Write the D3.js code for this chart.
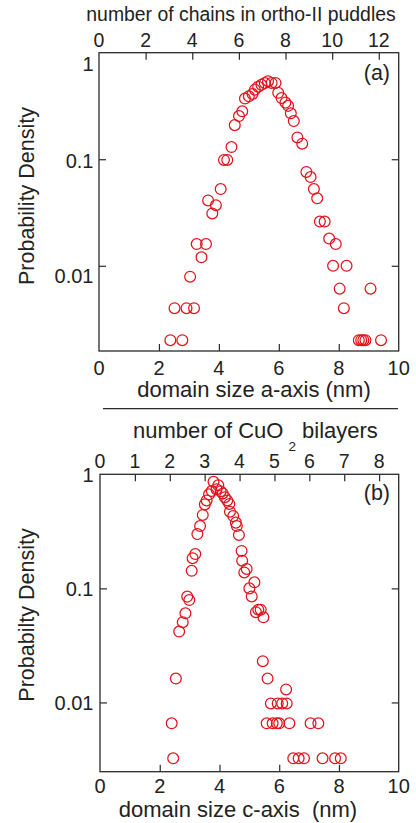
<!DOCTYPE html>
<html>
<head>
<meta charset="utf-8">
<script src="https://cdn.jsdelivr.net/npm/d3@7"></script>
<style>
  html, body { margin: 0; padding: 0; background: #fff; }
  svg { display: block; }
  text { font-family: "Liberation Sans", Arial, Helvetica, sans-serif; fill: #222; }
</style>
</head>
<body>
<svg id="chart" width="416" height="823"></svg>
<script>
// ---- data -------------------------------------------------------------
// (a) ortho-II domain size along a (nm) and probability density
const sizeA = [2.38, 2.52, 2.78, 2.92, 3.04, 3.17, 3.26, 3.42, 3.57, 3.64,
               3.78, 3.90, 4.06, 4.17, 4.28, 4.42, 4.53, 4.67, 4.78, 4.87,
               5.00, 5.12, 5.20, 5.31, 5.42, 5.53, 5.64, 5.76, 5.89, 5.98,
               6.09, 6.22, 6.31, 6.40, 6.50, 6.62, 6.78, 6.92, 7.06, 7.17,
               7.28, 7.37, 7.53, 7.68, 7.81, 7.90, 8.03, 8.17, 8.26, 8.67,
               8.75, 8.82, 8.89, 9.06, 9.41];
const densityA = [0.0020, 0.0040, 0.0020, 0.0040, 0.0079, 0.0040, 0.016, 0.012, 0.016, 0.041,
                  0.031, 0.037, 0.0525, 0.0985, 0.0985, 0.130, 0.209, 0.254, 0.282, 0.371,
                  0.39, 0.41, 0.45, 0.48, 0.50, 0.52, 0.54, 0.52, 0.52, 0.42,
                  0.375, 0.34, 0.317, 0.27, 0.228, 0.16, 0.14, 0.076, 0.068, 0.0525,
                  0.043, 0.026, 0.026, 0.018, 0.010, 0.016, 0.0061, 0.0040, 0.010, 0.0020,
                  0.0020, 0.0020, 0.0020, 0.0061, 0.0020];

// (b) domain size along c (nm) and probability density
const sizeC = [2.40, 2.45, 2.54, 2.65, 2.77, 2.86, 2.92, 2.99, 3.07, 3.10,
               3.19, 3.26, 3.35, 3.44, 3.51, 3.57, 3.65, 3.74, 3.80, 3.90,
               3.96, 4.04, 4.11, 4.18, 4.26, 4.33, 4.35, 4.46, 4.55, 4.58,
               4.65, 4.74, 4.76, 4.83, 4.91, 5.00, 5.08, 5.17, 5.22, 5.30,
               5.38, 5.45, 5.47, 5.58, 5.61, 5.72, 5.78, 5.92, 5.95, 6.00,
               6.10, 6.23, 6.25, 6.34, 6.47, 6.65, 6.83, 7.05, 7.31, 7.45,
               7.87, 8.06];
const densityC = [0.00656, 0.00324, 0.0162, 0.0418, 0.0505, 0.0605, 0.0847, 0.079, 0.1426, 0.184,
                  0.20, 0.299, 0.352, 0.44, 0.545, 0.59, 0.667, 0.713, 0.86, 0.74,
                  0.80, 0.71, 0.68, 0.63, 0.59, 0.55, 0.47, 0.43, 0.377, 0.352,
                  0.294, 0.213, 0.175, 0.138, 0.148, 0.100, 0.085, 0.113, 0.0618, 0.065,
                  0.065, 0.023, 0.0558, 0.00656, 0.0162, 0.0098, 0.00656, 0.00656, 0.0098, 0.00656,
                  0.0098, 0.013, 0.0098, 0.00656, 0.00324, 0.00324, 0.00324, 0.00656, 0.00656, 0.00324,
                  0.00324, 0.00324];

// tick values
const sizeTicks = [0, 2, 4, 6, 8, 10];
const densityTicks = [1, 0.1, 0.01];
const chainTicks = [0, 2, 4, 6, 8, 10, 12];
const bilayerTicks = [0, 1, 2, 3, 4, 5, 6, 7, 8];

// lattice lengths converting nm to counts on the top axes
const chainPeriodNm = 0.778;   // ortho-II chain spacing
const bilayerPeriodNm = 1.168; // c-axis CuO2 bilayer spacing

// ---- drawing ----------------------------------------------------------
const svg = d3.select("#chart");
const markerColor = "#e3121b";
const frameColor = "#2a2a2a";

const panels = [
  {
    tag: "(a)", xs: sizeA, ys: densityA,
    box: { left: 99, right: 398.7, top: 52.7, bottom: 351 },
    yMin: Math.pow(10, -2.8),
    topTicks: chainTicks, period: chainPeriodNm,
    topTickY: 46.7,
    bottomTitle: "domain size a-axis (nm)", bottomTitleX: 254, bottomTitleY: 397,
    bottomTickY: 375,
    yTitle: "Probability Density", yTitleY: 196,
    yLabelNudge: [11, 2, 10],
    tagY: 80
  },
  {
    tag: "(b)", xs: sizeC, ys: densityC,
    box: { left: 100, right: 398.7, top: 474.3, bottom: 771.7 },
    yMin: Math.pow(10, -2.607),
    topTicks: bilayerTicks, period: bilayerPeriodNm,
    topTickY: 468.3,
    bottomTitle: "domain size c-axis  (nm)", bottomTitleX: 238, bottomTitleY: 816.5,
    bottomTickY: 792.5,
    yTitle: "Probabilty Density", yTitleY: 615,
    yLabelNudge: [0, 0, 0],
    tagY: 500
  }
];

panels.forEach(p => {
  const b = p.box;
  const x = d3.scaleLinear().domain([0, 10]).range([b.left, b.right]);
  const xTop = d3.scaleLinear().domain([0, 10 / p.period]).range([b.left, b.right]);
  const y = d3.scaleLog().domain([p.yMin, 1]).range([b.bottom, b.top]);

  const g = svg.append("g");

  // inward tick marks on all four sides
  const tick = 7;
  const axes = [
    { a: d3.axisBottom(x).tickValues(sizeTicks.filter(v => v > 0 && v < 10)), t: `translate(0,${b.bottom})` },
    { a: d3.axisTop(xTop).tickValues(p.topTicks.filter(v => v > 0)), t: `translate(0,${b.top})` },
    { a: d3.axisLeft(y).tickValues(densityTicks.filter(v => v < 1)), t: `translate(${b.left},0)` },
    { a: d3.axisRight(y).tickValues(densityTicks.filter(v => v < 1)), t: `translate(${b.right},0)` }
  ];
  axes.forEach(d => {
    const ax = g.append("g").attr("transform", d.t)
      .call(d.a.tickSize(-tick).tickFormat(() => ""));
    ax.select(".domain").remove();
    ax.selectAll("text").remove();
    ax.selectAll("line").attr("stroke", frameColor).attr("stroke-width", 1.2);
  });

  // frame
  g.append("rect")
    .attr("x", b.left).attr("y", b.top)
    .attr("width", b.right - b.left).attr("height", b.bottom - b.top)
    .attr("fill", "none").attr("stroke", frameColor).attr("stroke-width", 1.3);

  // bottom tick labels
  g.selectAll(".bl").data(sizeTicks).join("text")
    .attr("x", d => x(d)).attr("y", p.bottomTickY)
    .attr("text-anchor", "middle").attr("font-size", 20)
    .text(d => d);

  // top tick labels
  g.selectAll(".tl").data(p.topTicks).join("text")
    .attr("x", d => xTop(d)).attr("y", p.topTickY)
    .attr("text-anchor", "middle").attr("font-size", 19.5)
    .text(d => d);

  // left tick labels
  g.selectAll(".yl").data(densityTicks).join("text")
    .attr("x", 93.5)
    .attr("y", (d, i) => y(d) + p.yLabelNudge[i])
    .attr("dy", "0.36em")
    .attr("text-anchor", "end").attr("font-size", 20)
    .text(d => d);

  // axis titles
  g.append("text")
    .attr("x", p.bottomTitleX).attr("y", p.bottomTitleY)
    .attr("text-anchor", "middle").attr("font-size", 22)
    .style("white-space", "pre")
    .text(p.bottomTitle);

  g.append("text")
    .attr("transform", `translate(34,${p.yTitleY}) rotate(-90)`)
    .attr("text-anchor", "middle").attr("font-size", 21.5)
    .text(p.yTitle);

  // panel tag
  g.append("text")
    .attr("x", 390).attr("y", p.tagY)
    .attr("text-anchor", "end").attr("font-size", 21.5)
    .text(p.tag);

  // data markers
  g.append("g").selectAll("circle")
    .data(p.xs.map((v, i) => [v, p.ys[i]]))
    .join("circle")
    .attr("cx", d => x(d[0])).attr("cy", d => y(d[1]))
    .attr("r", 5.4)
    .attr("fill", "none").attr("stroke", markerColor).attr("stroke-width", 1.25);
});

// top title of panel (a)
svg.append("text")
  .attr("x", 241).attr("y", 21)
  .attr("text-anchor", "middle").attr("font-size", 19.4)
  .text("number of chains in ortho-II puddles");

// top title of panel (b) with subscripted CuO2
const tb = svg.append("text")
  .attr("x", 133).attr("y", 438)
  .attr("font-size", 22);
tb.append("tspan").text("number of CuO");
tb.append("tspan").attr("dx", 5).attr("dy", 13).attr("font-size", 13.5).text("2");
tb.append("tspan").attr("dy", -13).style("white-space", "pre").text(" bilayers");

// separator between the panels
svg.append("line")
  .attr("x1", 103).attr("x2", 398).attr("y1", 408.7).attr("y2", 408.7)
  .attr("stroke", frameColor).attr("stroke-width", 1.2);
</script>
</body>
</html>
